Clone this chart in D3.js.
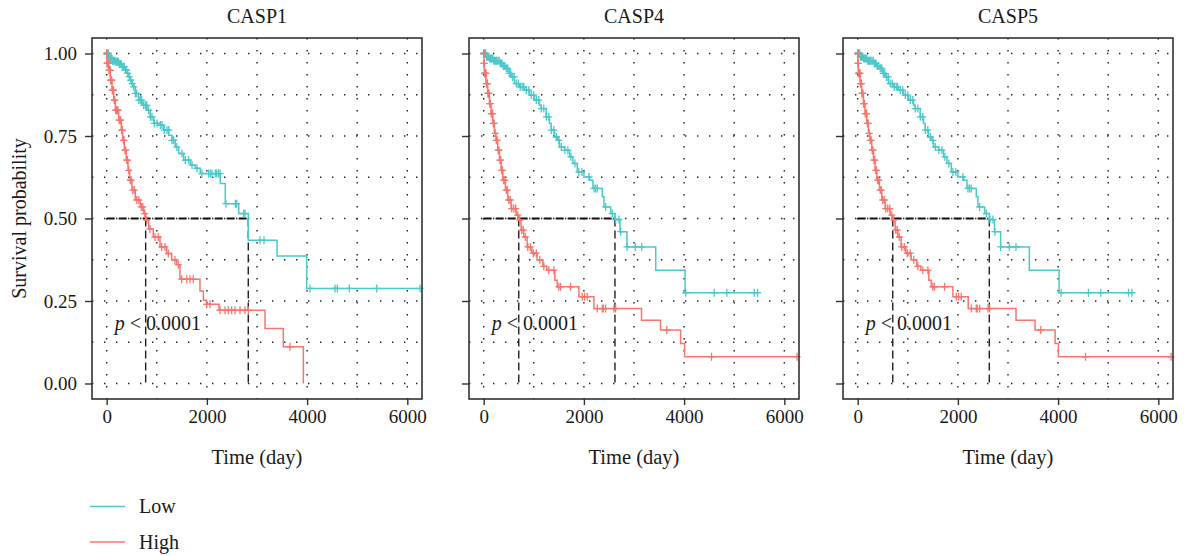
<!DOCTYPE html>
<html>
<head>
<meta charset="utf-8">
<script src="https://cdn.jsdelivr.net/npm/d3@7"></script>
<style>
  body { margin: 0; background: #fff; }
  text { font-family: "Liberation Serif", "Times New Roman", serif; fill: #1a1a1a; }
</style>
</head>
<body>
<svg id="chart" width="1187" height="556"></svg>
<script>
const genes = ['CASP1', 'CASP4', 'CASP5'];
const groups = ['Low', 'High'];
const groupColors = ['#4EC8C9', '#F8766D'];
const xTicks = [0, 2000, 4000, 6000];
const yTicks = [0, 0.25, 0.5, 0.75, 1];
const yTickLabels = ['0.00', '0.25', '0.50', '0.75', '1.00'];
const xGrid = [0, 1000, 2000, 3000, 4000, 5000, 6000];
const yGrid = [0, 0.125, 0.25, 0.375, 0.5, 0.625, 0.75, 0.875, 1];
const pText = '< 0.0001';

// steps: [time (day), survival after that time]; censor: times of "+" marks
const casp1LowSteps = [[0,1],[40,0.985],[120,0.978],[172,0.975],[240,0.968],[305,0.96],[360,0.95],[405,0.94],[440,0.93],[471,0.919],[505,0.909],[539,0.899],[571,0.879],[639,0.859],[705,0.843],[804,0.828],[870,0.808],[938,0.788],[1038,0.783],[1138,0.768],[1238,0.752],[1303,0.737],[1369,0.717],[1437,0.697],[1537,0.677],[1669,0.662],[1768,0.652],[1868,0.636],[2267,0.606],[2367,0.545],[2635,0.515],[2826,0.434],[3400,0.386],[3992,0.288]];
const casp1LowCensor = [5,15,25,35,50,60,75,90,105,120,135,150,165,185,200,215,235,255,270,290,310,330,350,375,395,420,450,480,510,540,571,600,640,672,700,738,771,800,838,870,904,950,1004,1071,1104,1150,1204,1237,1303,1337,1400,1503,1570,1636,1703,1803,1900,2035,2069,2102,2168,2195,2235,2262,2380,2568,2595,2734,2761,3060,3140,4058,4557,4603,4842,5389,6254];
const casp1HighSteps = [[0,1],[6,0.97],[40,0.949],[72,0.919],[106,0.889],[140,0.859],[172,0.828],[240,0.798],[291,0.768],[319,0.737],[351,0.707],[391,0.677],[425,0.646],[459,0.616],[505,0.586],[571,0.556],[671,0.535],[738,0.515],[778,0.495],[838,0.468],[930,0.444],[1064,0.414],[1198,0.394],[1297,0.374],[1397,0.36],[1463,0.316],[1862,0.28],[1930,0.252],[1990,0.24],[2242,0.222],[3160,0.167],[3525,0.111],[3925,0]];
const casp1HighCensor = [2,8,15,22,30,38,45,55,62,70,80,90,100,112,125,135,150,160,180,195,210,225,250,265,280,300,315,335,345,365,380,400,415,440,470,490,520,550,600,640,690,720,760,798,864,964,1030,1098,1164,1230,1363,1430,1497,1597,1663,1729,1996,2062,2262,2361,2428,2495,2561,2661,2761,2827,3659];

const casp4LowSteps = [[0,1],[50,0.99],[114,0.985],[200,0.978],[314,0.97],[380,0.962],[447,0.955],[500,0.94],[547,0.929],[614,0.909],[714,0.899],[814,0.889],[914,0.874],[1014,0.859],[1114,0.843],[1147,0.833],[1247,0.808],[1314,0.788],[1347,0.768],[1414,0.747],[1481,0.737],[1514,0.717],[1614,0.707],[1714,0.687],[1781,0.667],[1867,0.641],[2000,0.626],[2114,0.616],[2181,0.591],[2367,0.566],[2400,0.535],[2534,0.515],[2620,0.497],[2720,0.46],[2860,0.414],[3434,0.343],[4020,0.275]];
const casp4LowCensor = [3,10,20,30,40,55,70,85,100,120,140,160,180,200,220,240,260,285,310,335,360,390,420,450,480,510,540,575,610,650,690,730,770,800,850,900,950,1000,1050,1100,1150,1200,1250,1300,1350,1400,1450,1500,1550,1620,1680,1740,1820,1900,1960,2101,2201,2234,2267,2434,2567,2634,2700,2734,2860,3026,3153,4033,4600,4853,5400,5467];
const casp4HighSteps = [[0,1],[5,0.97],[14,0.94],[47,0.909],[80,0.879],[114,0.848],[147,0.818],[181,0.788],[214,0.758],[247,0.737],[281,0.707],[314,0.677],[347,0.646],[381,0.616],[434,0.586],[481,0.556],[547,0.53],[647,0.51],[700,0.495],[747,0.465],[800,0.444],[867,0.414],[960,0.395],[1067,0.375],[1180,0.355],[1260,0.343],[1420,0.313],[1467,0.293],[1900,0.263],[2200,0.227],[3150,0.192],[3530,0.162],[3930,0.121],[4010,0.081]];
const casp4HighCensor = [2,6,10,16,22,30,38,45,55,65,75,85,95,105,120,135,150,165,180,195,210,230,250,270,290,305,325,340,360,375,400,420,450,470,500,530,560,600,640,680,720,760,790,830,880,930,990,1050,1120,1200,1300,1401,1500,1533,1734,1967,2013,2067,2267,2367,2387,2434,2600,2634,3654,4547,6254];

const casp5LowSteps = [[0,1],[50,0.99],[114,0.985],[200,0.978],[314,0.97],[380,0.962],[447,0.955],[500,0.94],[547,0.929],[614,0.909],[714,0.899],[814,0.889],[914,0.874],[1014,0.859],[1114,0.843],[1147,0.833],[1247,0.808],[1314,0.788],[1347,0.768],[1414,0.747],[1481,0.737],[1514,0.717],[1614,0.707],[1714,0.687],[1781,0.667],[1867,0.641],[2000,0.626],[2114,0.616],[2181,0.591],[2367,0.566],[2400,0.535],[2534,0.515],[2627,0.497],[2730,0.46],[2853,0.414],[3426,0.343],[4020,0.275]];
const casp5LowCensor = [3,10,20,30,40,55,70,85,100,120,140,160,180,200,220,240,260,285,310,335,360,390,420,450,480,510,540,575,610,650,690,730,770,800,850,900,950,1000,1050,1100,1150,1200,1250,1300,1350,1400,1450,1500,1550,1620,1680,1740,1820,1900,1960,2101,2201,2234,2267,2434,2567,2640,2700,2740,2853,3026,3160,4060,4606,4853,5406,5473];
const casp5HighSteps = [[0,1],[5,0.97],[14,0.94],[47,0.909],[80,0.879],[114,0.848],[147,0.818],[181,0.788],[214,0.758],[247,0.737],[281,0.707],[314,0.677],[347,0.646],[381,0.616],[434,0.586],[481,0.556],[547,0.53],[647,0.51],[700,0.495],[747,0.465],[800,0.444],[867,0.414],[960,0.395],[1067,0.375],[1180,0.355],[1260,0.343],[1420,0.313],[1467,0.293],[1900,0.263],[2206,0.227],[3160,0.192],[3540,0.162],[3940,0.121],[4006,0.081]];
const casp5HighCensor = [2,6,10,16,22,30,38,45,55,65,75,85,95,105,120,135,150,165,180,195,210,230,250,270,290,305,325,340,360,375,400,420,450,470,500,530,560,600,640,680,720,760,790,830,880,930,990,1050,1120,1200,1300,1401,1500,1533,1734,1967,2013,2067,2267,2367,2387,2434,2600,2634,3654,4547,6254];

const curves = {
  CASP1: [[casp1LowSteps, casp1LowCensor], [casp1HighSteps, casp1HighCensor]],
  CASP4: [[casp4LowSteps, casp4LowCensor], [casp4HighSteps, casp4HighCensor]],
  CASP5: [[casp5LowSteps, casp5LowCensor], [casp5HighSteps, casp5HighCensor]]
};

const panelLefts = [92, 469, 843];
const plotTop = 38, pw = 330, ph = 361;

const svg = d3.select('#chart');

const x = d3.scaleLinear().domain([-293, 6293]).range([0, pw]);
const y = d3.scaleLinear().domain([-0.047, 1.047]).range([ph, 0]);

function survAt(steps, t) {
  let s = 1;
  for (const [st, sv] of steps) { if (st <= t) s = sv; }
  return s;
}
function median(steps) {
  const hit = steps.find(d => d[1] <= 0.5);
  return hit ? hit[0] : null;
}

genes.forEach((gene, gi) => {
  const g = svg.append('g').attr('transform', `translate(${panelLefts[gi]},${plotTop})`);

  // dotted grid
  g.selectAll('.vgrid').data(xGrid).enter().append('line')
    .attr('x1', d => x(d)).attr('x2', d => x(d))
    .attr('y1', 0).attr('y2', ph)
    .attr('stroke', '#222').attr('stroke-width', 1.4)
    .attr('stroke-dasharray', '1.4,10.6');
  g.selectAll('.hgrid').data(yGrid).enter().append('line')
    .attr('x1', 0).attr('x2', pw)
    .attr('y1', d => y(d)).attr('y2', d => y(d))
    .attr('stroke', '#222').attr('stroke-width', 1.4)
    .attr('stroke-dasharray', '1.4,10.6');

  // median lines
  const meds = curves[gene].map(c => median(c[0]));
  const maxMed = d3.max(meds);
  g.append('line')
    .attr('x1', x(0)).attr('x2', x(maxMed))
    .attr('y1', y(0.5)).attr('y2', y(0.5))
    .attr('stroke', '#111').attr('stroke-width', 1.8).attr('stroke-dasharray', '8,4');
  meds.forEach(m => {
    g.append('line')
      .attr('x1', x(m)).attr('x2', x(m))
      .attr('y1', y(0.5)).attr('y2', y(0))
      .attr('stroke', '#222').attr('stroke-width', 1.4).attr('stroke-dasharray', '8,4');
  });

  // curves
  const line = d3.line().x(d => x(d[0])).y(d => y(d[1])).curve(d3.curveStepAfter);
  curves[gene].forEach(([steps, censor], k) => {
    const last = steps[steps.length - 1];
    const endT = Math.max(last[0], d3.max(censor));
    const pts = steps.concat([[endT, last[1]]]);
    g.append('path').datum(pts)
      .attr('d', line)
      .attr('fill', 'none')
      .attr('stroke', groupColors[k])
      .attr('stroke-width', 1.5);
    g.selectAll('.cens' + k).data(censor).enter().append('path')
      .attr('d', d => {
        const cx = x(d), cy = y(survAt(steps, d));
        return `M${cx - 3.5},${cy}H${cx + 3.5}M${cx},${cy - 4}V${cy + 4}`;
      })
      .attr('stroke', groupColors[k])
      .attr('stroke-width', 1.3)
      .attr('fill', 'none');
  });

  // p value
  const pt = g.append('text')
    .attr('x', x(160)).attr('y', y(0.161))
    .attr('font-size', 20);
  pt.append('tspan').attr('font-style', 'italic').text('p');
  pt.append('tspan').text(' ' + pText);

  // box
  g.append('rect').attr('x', 0).attr('y', 0).attr('width', pw).attr('height', ph)
    .attr('fill', 'none').attr('stroke', '#333').attr('stroke-width', 1.6);

  // axes
  const xAxis = g.append('g').attr('transform', `translate(0,${ph})`)
    .call(d3.axisBottom(x).tickValues(xTicks).tickSize(6).tickPadding(5).tickFormat(d3.format('d')));
  xAxis.select('.domain').remove();
  xAxis.selectAll('line').attr('stroke', '#333').attr('stroke-width', 1.4);
  xAxis.selectAll('text').attr('font-size', 19).attr('fill', '#1a1a1a')
    .attr('font-family', '"Liberation Serif", serif');

  const yAxis = g.append('g')
    .call(d3.axisLeft(y).tickValues(yTicks).tickSize(7).tickPadding(8)
      .tickFormat((d, i) => gi === 0 ? yTickLabels[i] : ''));
  yAxis.select('.domain').remove();
  yAxis.selectAll('line').attr('stroke', '#333').attr('stroke-width', 1.4);
  yAxis.selectAll('text').attr('font-size', 19).attr('fill', '#1a1a1a')
    .attr('font-family', '"Liberation Serif", serif');

  // titles
  g.append('text').attr('x', pw / 2).attr('y', -15).attr('text-anchor', 'middle')
    .attr('font-size', 20).text(gene);
  g.append('text').attr('x', pw / 2).attr('y', 426).attr('text-anchor', 'middle')
    .attr('font-size', 20.5).text('Time (day)');
});

svg.append('text')
  .attr('transform', `translate(26,${plotTop + ph / 2}) rotate(-90)`)
  .attr('text-anchor', 'middle').attr('font-size', 20)
  .text('Survival probability');

// legend
const legend = svg.append('g');
groups.forEach((name, i) => {
  const ly = 506.5 + i * 35.5;
  legend.append('line').attr('x1', 90).attr('x2', 125).attr('y1', ly).attr('y2', ly)
    .attr('stroke', groupColors[i]).attr('stroke-width', 1.5);
  legend.append('text').attr('x', 139).attr('y', ly + 6.5).attr('font-size', 20).text(name);
});
</script>
</body>
</html>
